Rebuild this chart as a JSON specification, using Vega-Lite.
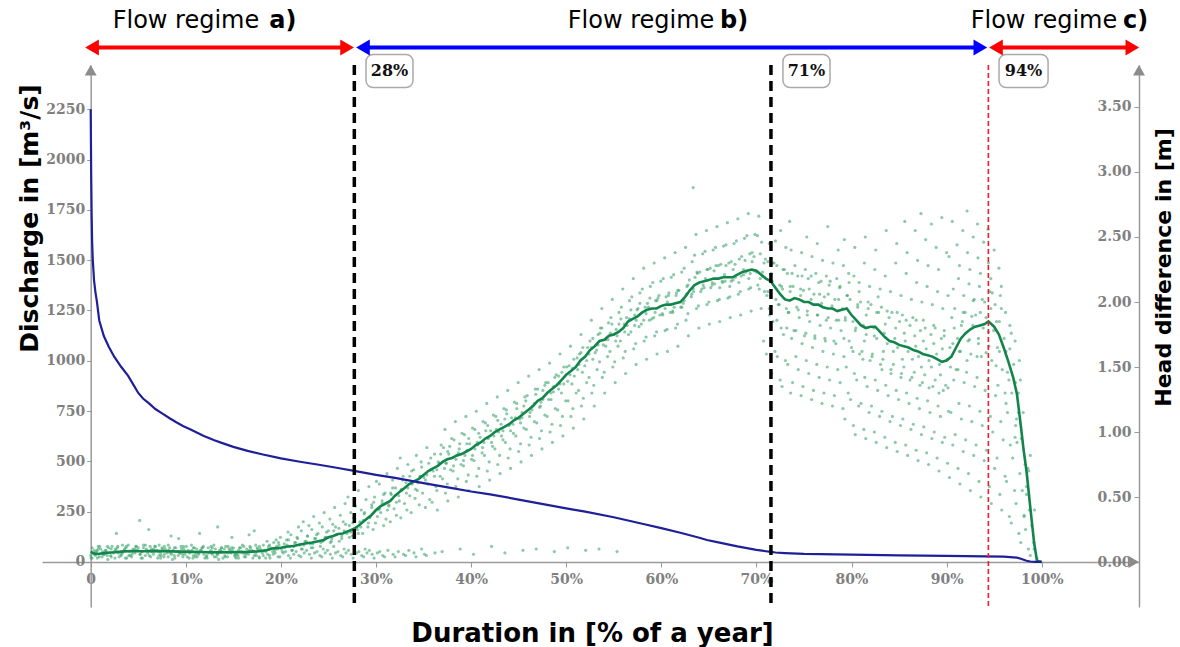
{
"$schema": "https://vega.github.io/schema/vega-lite/v6.json",
"width": 1097, "height": 542,
"autosize": {"type": "none"},
"padding": {"left": 42, "top": 65, "right": 41, "bottom": 40},
"background": "white",
"config": {"view": {"stroke": null}, "axis": {"grid": false}},
"datasets": {
"scatter": [
{"d":[0.0,0.35,0.15,0.45,0.05],"h":[0.05,0.09,0.11,0.07,0.03]},
{"d":[0.7,0.4,0.8,0.5,0.65],"h":[0.03,0.07,0.12,0.05,0.09]},
{"d":[0.9,1.25,1.05,1.35,0.95],"h":[0.04,0.08,0.1,0.06,0.12]},
{"d":[1.8,1.5,1.9,1.6,1.75],"h":[0.02,0.06,0.11,0.09,0.05]},
{"d":[2.1,2.45,2.25,2.55,2.15],"h":[0.05,0.08,0.12,0.03,0.1]},
{"d":[2.9,2.6,3.0,2.7,2.85],"h":[0.07,0.1,0.04,0.22,0.12]},
{"d":[3.2,3.55,3.35,3.65,3.25],"h":[0.06,0.09,0.13,0.03,0.08]},
{"d":[4.0,3.7,4.1,3.8,3.95],"h":[0.05,0.11,0.08,0.03,0.13]},
{"d":[4.3,4.65,4.45,4.75,4.35],"h":[0.04,0.07,0.1,0.12,0.06]},
{"d":[5.2,4.9,5.3,5.0,5.15],"h":[0.06,0.09,0.03,0.11,0.32]},
{"d":[5.4,5.75,5.55,5.85,5.45],"h":[0.08,0.05,0.13,0.1,0.03]},
{"d":[6.3,6.0,6.4,6.1,6.25],"h":[0.04,0.07,0.1,0.25,0.12]},
{"d":[6.6,6.95,6.75,7.05,6.65],"h":[0.06,0.09,0.12,0.03,0.08]},
{"d":[7.4,7.1,7.5,7.2,7.35],"h":[0.05,0.08,0.11,0.13,0.03]},
{"d":[7.7,8.05,7.85,8.15,7.75],"h":[0.04,0.07,0.1,0.13,0.06]},
{"d":[8.5,8.2,8.6,8.3,8.45],"h":[0.06,0.09,0.02,0.11,0.2]},
{"d":[8.8,9.15,8.95,9.25,8.85],"h":[0.05,0.08,0.11,0.18,0.03]},
{"d":[9.7,9.4,9.8,9.5,9.65],"h":[0.04,0.07,0.1,0.12,0.06]},
{"d":[9.9,10.25,10.05,10.35,9.95],"h":[0.06,0.09,0.12,0.03,0.08]},
{"d":[10.8,10.5,10.9,10.6,10.75],"h":[0.05,0.08,0.11,0.13,0.03]},
{"d":[11.0,11.35,11.15,11.45,11.05],"h":[0.04,0.07,0.1,0.22,0.06]},
{"d":[11.9,11.6,12.0,11.7,11.85],"h":[0.06,0.09,0.03,0.11,0.12]},
{"d":[12.2,12.55,12.35,12.65,12.25],"h":[0.05,0.08,0.11,0.12,0.03]},
{"d":[13.0,12.7,13.1,12.8,12.95],"h":[0.04,0.07,0.1,0.06,0.13]},
{"d":[13.3,13.65,13.45,13.75,13.35],"h":[0.06,0.09,0.02,0.11,0.27]},
{"d":[14.1,13.8,14.2,13.9,14.05],"h":[0.05,0.08,0.12,0.03,0.1]},
{"d":[14.4,14.75,14.55,14.85,14.45],"h":[0.04,0.07,0.1,0.19,0.12]},
{"d":[15.2,14.9,15.3,15.0,15.15],"h":[0.06,0.09,0.03,0.11,0.05]},
{"d":[15.5,15.85,15.65,15.95,15.55],"h":[0.05,0.08,0.11,0.13,0.03]},
{"d":[16.3,16.0,16.4,16.1,16.25],"h":[0.04,0.07,0.1,0.12,0.06]},
{"d":[16.6,16.95,16.75,17.05,16.65],"h":[0.06,0.09,0.12,0.03,0.21]},
{"d":[17.4,17.1,17.5,17.2,17.35],"h":[0.05,0.08,0.11,0.24,0.13]},
{"d":[17.7,18.05,17.85,18.15,17.75],"h":[0.04,0.07,0.1,0.13,0.03]},
{"d":[18.6,18.3,18.7,18.4,18.55],"h":[0.06,0.09,0.12,0.03,0.16]},
{"d":[18.8,19.15,18.95,19.25,18.85],"h":[0.05,0.08,0.11,0.15,0.03]},
{"d":[19.7,19.4,19.8,19.5,19.65],"h":[0.04,0.07,0.13,0.17,0.1]},
{"d":[19.9,20.25,20.05,20.35,19.95],"h":[0.04,0.07,0.1,0.14,0.19]},
{"d":[20.8,20.5,20.9,20.6,20.75],"h":[0.05,0.08,0.12,0.17,0.23]},
{"d":[21.0,21.35,21.15,21.45,21.05],"h":[0.03,0.06,0.09,0.15,0.21]},
{"d":[21.9,21.6,22.0,21.7,21.85],"h":[0.05,0.08,0.13,0.19,0.27]},
{"d":[22.1,22.45,22.25,22.55,22.15,22.35],"h":[0.04,0.07,0.1,0.16,0.24,0.31]},
{"d":[23.0,22.7,23.1,22.8,22.95],"h":[0.06,0.09,0.14,0.2,0.28]},
{"d":[23.2,23.55,23.35,23.65,23.25,23.45],"h":[0.03,0.07,0.11,0.18,0.25,0.35]},
{"d":[24.1,23.8,24.2,23.9,24.05],"h":[0.05,0.08,0.15,0.22,0.3]},
{"d":[24.3,24.65,24.45,24.75,24.35,24.55],"h":[0.04,0.07,0.1,0.19,0.27,0.38]},
{"d":[25.2,24.9,25.3,25.0,25.15],"h":[0.06,0.09,0.16,0.24,0.33]},
{"d":[25.4,25.75,25.55,25.85,25.45,25.65],"h":[0.03,0.07,0.12,0.21,0.29,0.42]},
{"d":[26.3,26.0,26.4,26.1,26.25],"h":[0.05,0.08,0.18,0.26,0.36]},
{"d":[26.5,26.85,26.65,26.95,26.55,26.75],"h":[0.04,0.07,0.1,0.22,0.31,0.45]},
{"d":[27.4,27.1,27.5,27.2,27.35,27.05],"h":[0.06,0.09,0.2,0.28,0.38,0.5]},
{"d":[27.6,27.95,27.75,28.05,27.65,27.85],"h":[0.03,0.07,0.11,0.25,0.34,0.43]},
{"d":[28.5,28.2,28.6,28.3,28.45,28.15],"h":[0.05,0.08,0.22,0.31,0.4,0.55]},
{"d":[28.7,29.05,28.85,29.15,28.75,28.95],"h":[0.04,0.07,0.1,0.27,0.37,0.48]},
{"d":[29.6,29.3,29.7,29.4,29.55,29.25],"h":[0.06,0.09,0.25,0.35,0.44,0.58]},
{"d":[29.8,30.15,29.95,30.25,29.85,30.05],"h":[0.03,0.07,0.3,0.4,0.5,0.62]},
{"d":[30.7,30.4,30.8,30.5,30.65,30.35],"h":[0.05,0.08,0.28,0.38,0.47,0.6]},
{"d":[30.9,31.25,31.05,31.35,30.95,31.15],"h":[0.04,0.09,0.33,0.43,0.53,0.68]},
{"d":[31.8,31.5,31.9,31.6,31.75],"h":[0.06,0.31,0.41,0.52,0.63]},
{"d":[32.0,32.35,32.15,32.45,32.05,32.25],"h":[0.04,0.08,0.36,0.47,0.57,0.72]},
{"d":[32.9,32.6,33.0,32.7,32.85,32.55],"h":[0.06,0.34,0.45,0.55,0.66,0.8]},
{"d":[33.1,33.45,33.25,33.55,33.15,33.35],"h":[0.05,0.09,0.4,0.51,0.61,0.75]},
{"d":[34.0,33.7,34.1,33.8,33.95],"h":[0.07,0.38,0.49,0.6,0.71]},
{"d":[34.2,34.55,34.35,34.65,34.25],"h":[0.04,0.44,0.55,0.66,0.82]},
{"d":[35.1,34.8,35.2,34.9,35.05,34.75],"h":[0.06,0.1,0.42,0.53,0.65,0.77]},
{"d":[35.3,35.65,35.45,35.75,35.35],"h":[0.05,0.48,0.6,0.71,0.88]},
{"d":[36.2,35.9,36.3,36.0,36.15],"h":[0.07,0.46,0.58,0.7,0.83]},
{"d":[36.4,36.75,36.55,36.85,36.45],"h":[0.55,0.66,0.77,0.9,0.4]},
{"d":[37.3,37.0,37.4,37.1,37.25,36.95],"h":[0.53,0.64,0.76,0.88,1.02,0.08]},
{"d":[37.5,37.85,37.65,37.95,37.55],"h":[0.6,0.71,0.83,0.95,0.47]},
{"d":[38.4,38.1,38.5,38.2,38.35],"h":[0.58,0.7,0.82,0.94,1.08]},
{"d":[38.6,38.95,38.75,39.05,38.65,38.85],"h":[0.64,0.75,0.87,0.99,0.5,0.1]},
{"d":[39.5,39.2,39.6,39.3,39.45],"h":[0.62,0.74,0.86,0.98,1.12]},
{"d":[39.7,40.05,39.85,40.15,39.75],"h":[0.67,0.79,0.91,1.03,0.55]},
{"d":[40.6,40.3,40.7,40.4,40.55,40.25],"h":[0.66,0.78,0.9,1.02,1.16,0.06]},
{"d":[40.8,41.15,40.95,41.25,40.85],"h":[0.72,0.84,0.96,1.08,0.58]},
{"d":[41.7,41.4,41.8,41.5,41.65],"h":[0.7,0.82,0.95,1.07,1.22]},
{"d":[41.9,42.25,42.05,42.35,41.95,42.15],"h":[0.77,0.89,1.01,1.13,0.63,0.12]},
{"d":[42.8,42.5,42.9,42.6,42.75],"h":[0.75,0.87,1.0,1.12,1.27]},
{"d":[43.0,43.35,43.15,43.45,43.05],"h":[0.82,0.94,1.06,1.18,0.68]},
{"d":[43.9,43.6,44.0,43.7,43.85,43.55],"h":[0.8,0.92,1.05,1.17,1.32,0.07]},
{"d":[44.1,44.45,44.25,44.55,44.15],"h":[0.87,0.99,1.11,1.23,0.72]},
{"d":[45.0,44.7,45.1,44.8,44.95],"h":[0.85,0.97,1.1,1.22,1.38]},
{"d":[45.2,45.55,45.35,45.65,45.25,45.45],"h":[0.91,1.03,1.15,1.27,0.77,0.09]},
{"d":[46.1,45.8,46.2,45.9,46.05],"h":[0.9,1.02,1.15,1.28,1.43]},
{"d":[46.3,46.65,46.45,46.75,46.35],"h":[0.96,1.08,1.2,1.33,0.82]},
{"d":[47.2,46.9,47.3,47.0,47.15,46.85],"h":[0.95,1.07,1.2,1.33,1.48,0.1]},
{"d":[47.4,47.75,47.55,47.85,47.45],"h":[1.01,1.13,1.25,1.38,0.87]},
{"d":[48.3,48.0,48.4,48.1,48.25],"h":[1.0,1.12,1.25,1.38,1.53]},
{"d":[48.5,48.85,48.65,48.95,48.55,48.75],"h":[1.06,1.18,1.31,1.44,0.92,0.08]},
{"d":[49.4,49.1,49.5,49.2,49.35],"h":[1.05,1.17,1.3,1.43,1.6]},
{"d":[49.6,49.95,49.75,50.05,49.65],"h":[1.12,1.24,1.37,1.5,0.97]},
{"d":[50.5,50.2,50.6,50.3,50.45,50.15],"h":[1.12,1.24,1.37,1.51,1.66,0.11]},
{"d":[50.7,51.05,50.85,51.15,50.75],"h":[1.18,1.3,1.43,1.57,1.03]},
{"d":[51.6,51.3,51.7,51.4,51.55],"h":[1.2,1.32,1.46,1.6,1.75]},
{"d":[51.8,52.15,51.95,52.25,51.85,52.05],"h":[1.26,1.38,1.51,1.65,1.1,0.09]},
{"d":[52.7,52.4,52.8,52.5,52.65],"h":[1.3,1.42,1.56,1.7,1.86]},
{"d":[52.9,53.25,53.05,53.35,52.95],"h":[1.36,1.48,1.61,1.75,1.2]},
{"d":[53.8,53.5,53.9,53.6,53.75,53.45],"h":[1.42,1.54,1.67,1.8,1.95,0.1]},
{"d":[54.0,54.35,54.15,54.45,54.05],"h":[1.46,1.58,1.71,1.84,1.3]},
{"d":[54.9,54.6,55.0,54.7,54.85],"h":[1.5,1.62,1.75,1.88,2.02]},
{"d":[55.1,55.45,55.25,55.55,55.15,55.35],"h":[1.54,1.66,1.79,1.92,1.38,0.08]},
{"d":[56.0,55.7,56.1,55.8,55.95],"h":[1.57,1.7,1.83,1.96,2.1]},
{"d":[56.2,56.55,56.35,56.65,56.25],"h":[1.62,1.75,1.88,2.01,1.45]},
{"d":[57.1,56.8,57.2,56.9,57.05],"h":[1.64,1.77,1.9,2.04,2.18]},
{"d":[57.3,57.65,57.45,57.75,57.35],"h":[1.68,1.81,1.94,2.07,1.52]},
{"d":[58.2,57.9,58.3,58.0,58.15],"h":[1.7,1.83,1.96,2.1,2.26]},
{"d":[58.4,58.75,58.55,58.85,58.45],"h":[1.73,1.86,1.99,2.12,1.56]},
{"d":[59.3,59.0,59.4,59.1,59.25],"h":[1.74,1.87,2.01,2.15,2.3]},
{"d":[59.5,59.85,59.65,59.95,59.55],"h":[1.77,1.9,2.03,2.16,1.6]},
{"d":[60.4,60.1,60.5,60.2,60.35],"h":[1.78,1.91,2.04,2.18,2.34]},
{"d":[60.6,60.95,60.75,61.05,60.65],"h":[1.79,1.92,2.05,2.19,1.62]},
{"d":[61.5,61.2,61.6,61.3,61.45],"h":[1.8,1.93,2.07,2.21,2.38]},
{"d":[61.7,62.05,61.85,62.15,61.75],"h":[1.83,1.96,2.09,2.23,1.66]},
{"d":[62.6,62.3,62.7,62.4,62.55],"h":[1.86,1.99,2.12,2.26,2.42]},
{"d":[62.8,63.15,62.95,63.25,62.85],"h":[1.91,2.04,2.17,2.31,1.74]},
{"d":[63.7,63.4,63.8,63.5,63.65,63.35],"h":[1.95,2.08,2.22,2.36,2.52,2.88]},
{"d":[63.9,64.25,64.05,64.35,63.95],"h":[1.97,2.1,2.23,2.37,1.8]},
{"d":[64.8,64.5,64.9,64.6,64.75],"h":[1.98,2.11,2.25,2.39,2.55]},
{"d":[65.0,65.35,65.15,65.45,65.05],"h":[2.0,2.13,2.26,2.4,1.83]},
{"d":[65.9,65.6,66.0,65.7,65.85],"h":[2.01,2.14,2.28,2.42,2.58]},
{"d":[66.1,66.45,66.25,66.55,66.15],"h":[2.02,2.15,2.29,2.43,1.85]},
{"d":[67.0,66.7,67.1,66.8,66.95],"h":[2.03,2.16,2.3,2.44,2.61]},
{"d":[67.2,67.55,67.35,67.65,67.25],"h":[2.04,2.17,2.31,2.45,1.88]},
{"d":[68.1,67.8,68.2,67.9,68.05],"h":[2.06,2.19,2.33,2.47,2.64]},
{"d":[68.3,68.65,68.45,68.75,68.35],"h":[2.08,2.21,2.35,2.49,1.9]},
{"d":[69.2,68.9,69.3,69.0,69.15],"h":[2.1,2.23,2.37,2.51,2.68]},
{"d":[69.4,69.75,69.55,69.85,69.45],"h":[2.11,2.24,2.38,2.52,1.93]},
{"d":[70.3,70.0,70.4,70.1,70.25],"h":[2.1,2.23,2.37,2.51,2.66]},
{"d":[70.5,70.85,70.65,70.95,70.55,70.75],"h":[1.95,2.08,2.2,2.33,2.46,1.7]},
{"d":[71.4,71.1,71.5,71.2,71.35,71.05],"h":[1.9,2.05,2.18,2.31,2.45,1.6]},
{"d":[71.6,71.95,71.75,72.05,71.65,71.85,72.0],"h":[1.45,1.62,1.85,2.02,2.16,2.3,2.47]},
{"d":[72.5,72.2,72.6,72.3,72.45,72.15,72.55],"h":[1.4,1.58,1.8,1.98,2.13,2.28,2.55]},
{"d":[72.7,73.05,72.85,73.15,72.75,72.95,73.1],"h":[1.35,1.55,1.75,1.95,2.1,2.25,2.42]},
{"d":[73.6,73.3,73.7,73.4,73.55,73.25,73.65,73.5],"h":[1.3,1.52,1.72,1.92,2.08,2.22,2.4,2.62]},
{"d":[73.8,74.15,73.95,74.25,73.85,74.05],"h":[1.38,1.58,1.78,1.96,2.12,2.28]},
{"d":[74.7,74.4,74.8,74.5,74.65,74.35,74.75],"h":[1.28,1.48,1.68,1.88,2.05,2.2,2.38]},
{"d":[74.9,75.25,75.05,75.35,74.95,75.15,75.3],"h":[1.35,1.55,1.74,1.93,2.09,2.25,2.5]},
{"d":[75.8,75.5,75.9,75.6,75.75,75.45,75.85],"h":[1.25,1.45,1.65,1.85,2.02,2.18,2.35]},
{"d":[76.0,76.35,76.15,76.45,76.05,76.25,76.4],"h":[1.32,1.52,1.72,1.9,2.06,2.22,2.45]},
{"d":[76.9,76.6,77.0,76.7,76.85,76.55,76.95],"h":[1.22,1.42,1.62,1.82,1.99,2.15,2.32]},
{"d":[77.1,77.45,77.25,77.55,77.15,77.35,77.5],"h":[1.3,1.5,1.7,1.88,2.04,2.2,2.58]},
{"d":[78.0,77.7,78.1,77.8,77.95,77.65,78.05],"h":[1.2,1.4,1.6,1.8,1.97,2.13,2.3]},
{"d":[78.2,78.55,78.35,78.65,78.25,78.45,78.6],"h":[1.28,1.48,1.68,1.86,2.02,2.18,2.4]},
{"d":[79.1,78.8,79.2,78.9,79.05,78.75,79.15],"h":[1.18,1.38,1.58,1.78,1.95,2.11,2.28]},
{"d":[79.3,79.65,79.45,79.75,79.35,79.55,79.7,79.25],"h":[1.1,1.3,1.5,1.7,1.88,2.05,2.22,2.48]},
{"d":[80.2,79.9,80.3,80.0,80.15,79.85,80.25],"h":[1.05,1.25,1.45,1.65,1.85,2.02,2.2]},
{"d":[80.4,80.75,80.55,80.85,80.45,80.65,80.8,80.35],"h":[0.98,1.2,1.4,1.6,1.8,1.98,2.15,2.42]},
{"d":[81.3,81.0,81.4,81.1,81.25,80.95,81.35],"h":[1.02,1.22,1.42,1.62,1.82,2.0,2.3]},
{"d":[81.5,81.85,81.65,81.95,81.55,81.75,81.9,81.45],"h":[0.95,1.15,1.35,1.55,1.75,1.95,2.12,2.5]},
{"d":[82.4,82.1,82.5,82.2,82.35,82.05,82.45],"h":[1.0,1.2,1.4,1.6,1.8,1.98,2.25]},
{"d":[82.6,82.95,82.75,83.05,82.65,82.85,83.0,82.55],"h":[0.92,1.12,1.32,1.52,1.72,1.92,2.1,2.4]},
{"d":[83.5,83.2,83.6,83.3,83.45,83.15,83.55],"h":[0.96,1.16,1.36,1.56,1.76,1.96,2.2]},
{"d":[83.7,84.05,83.85,84.15,83.75,83.95,84.1,83.65],"h":[0.88,1.08,1.28,1.48,1.68,1.88,2.08,2.55]},
{"d":[84.6,84.3,84.7,84.4,84.55,84.25,84.65],"h":[0.92,1.12,1.32,1.52,1.72,1.92,2.3]},
{"d":[84.8,85.15,84.95,85.25,84.85,85.05,85.2,84.75],"h":[0.85,1.05,1.25,1.45,1.65,1.85,2.05,2.45]},
{"d":[85.7,85.4,85.8,85.5,85.65,85.35,85.75,85.6],"h":[0.9,1.1,1.3,1.5,1.7,1.9,2.22,2.62]},
{"d":[85.9,86.25,86.05,86.35,85.95,86.15,86.3,85.85],"h":[0.82,1.02,1.22,1.42,1.62,1.82,2.02,2.38]},
{"d":[86.8,86.5,86.9,86.6,86.75,86.45,86.85,86.7],"h":[0.86,1.06,1.26,1.46,1.66,1.88,2.15,2.55]},
{"d":[87.0,87.35,87.15,87.45,87.05,87.25,87.4,86.95,87.3],"h":[0.78,0.98,1.18,1.38,1.58,1.78,2.0,2.32,2.68]},
{"d":[87.9,87.6,88.0,87.7,87.85,87.55,87.95,87.8],"h":[0.84,1.04,1.24,1.44,1.64,1.86,2.12,2.48]},
{"d":[88.1,88.45,88.25,88.55,88.15,88.35,88.5,88.05,88.4],"h":[0.75,0.95,1.15,1.35,1.55,1.75,1.98,2.28,2.6]},
{"d":[89.0,88.7,89.1,88.8,88.95,88.65,89.05,88.9],"h":[0.8,1.0,1.2,1.4,1.6,1.82,2.08,2.42]},
{"d":[89.2,89.55,89.35,89.65,89.25,89.45,89.6,89.15,89.5],"h":[0.7,0.92,1.12,1.32,1.52,1.72,1.95,2.25,2.65]},
{"d":[90.1,89.8,90.2,89.9,90.05,89.75,90.15,90.0],"h":[0.76,0.96,1.16,1.36,1.56,1.78,2.05,2.38]},
{"d":[90.3,90.65,90.45,90.75,90.35,90.55,90.7,90.25,90.6],"h":[0.65,0.9,1.15,1.4,1.65,1.88,2.1,2.35,2.62]},
{"d":[91.2,90.9,91.3,91.0,91.15,90.85,91.25,91.1],"h":[0.72,0.98,1.22,1.48,1.72,1.95,2.18,2.44]},
{"d":[91.4,91.75,91.55,91.85,91.45,91.65,91.8,91.35,91.7],"h":[0.6,0.85,1.1,1.38,1.62,1.85,2.05,2.28,2.55]},
{"d":[92.3,92.0,92.4,92.1,92.25,91.95,92.35,92.2,92.15],"h":[0.68,0.94,1.2,1.46,1.7,1.92,2.14,2.38,2.7]},
{"d":[92.5,92.85,92.65,92.95,92.55,92.75,92.9,92.45,92.8],"h":[0.55,0.82,1.08,1.35,1.6,1.82,2.02,2.25,2.5]},
{"d":[93.4,93.1,93.5,93.2,93.35,93.05,93.45,93.3,93.25],"h":[0.62,0.9,1.16,1.42,1.68,1.9,2.12,2.34,2.6]},
{"d":[93.6,93.95,93.75,94.05,93.65,93.85,94.0,93.55,93.9],"h":[0.5,0.78,1.05,1.32,1.58,1.8,2.0,2.22,2.46]},
{"d":[94.5,94.2,94.6,94.3,94.45,94.15,94.55,94.4,94.35],"h":[0.58,0.86,1.12,1.4,1.66,1.88,2.08,2.3,2.56]},
{"d":[94.7,95.05,94.85,95.15,94.75,94.95,95.1,94.65,95.0],"h":[0.45,0.72,1.0,1.28,1.55,1.78,1.98,2.18,2.4]},
{"d":[95.6,95.3,95.7,95.4,95.55,95.25,95.65,95.5],"h":[0.52,0.8,1.08,1.36,1.62,1.85,2.05,2.26]},
{"d":[95.8,96.15,95.95,96.25,95.85,96.05,96.2,95.75],"h":[0.4,0.66,0.94,1.22,1.48,1.72,1.92,2.12]},
{"d":[96.6,96.3,96.7,96.4,96.55,96.25,96.65],"h":[0.35,0.62,0.9,1.15,1.4,1.62,1.82]},
{"d":[96.8,97.15,96.95,97.25,96.85,97.05,97.2],"h":[0.3,0.55,0.8,1.05,1.3,1.52,1.7]},
{"d":[97.6,97.3,97.7,97.4,97.55,97.25,97.65],"h":[0.22,0.45,0.68,0.92,1.15,1.38,1.55]},
{"d":[97.8,98.15,97.95,98.25,97.85,98.05],"h":[0.15,0.35,0.55,0.75,0.95,1.15]},
{"d":[98.6,98.3,98.7,98.4,98.55],"h":[0.1,0.25,0.4,0.58,0.72]},
{"d":[98.8,99.15,98.95,99.25],"h":[0.05,0.15,0.28,0.4]},
{"d":[99.5,99.2],"h":[0.03,0.1]},
{"d":[0.15,0.65,0.4,0.8],"h":[0.03,0.08,0.06,0.1]},
{"d":[1.55,1.2,1.75,1.35],"h":[0.09,0.04,0.12,0.06]},
{"d":[2.15,2.65,2.4,2.8],"h":[0.04,0.09,0.07,0.11]},
{"d":[3.55,3.2,3.75,3.35],"h":[0.1,0.05,0.12,0.07]},
{"d":[4.15,4.65,4.4,4.8],"h":[0.05,0.1,0.08,0.12]},
{"d":[5.55,5.2,5.75,5.35],"h":[0.11,0.06,0.13,0.08]},
{"d":[6.15,6.65,6.4,6.8],"h":[0.05,0.1,0.08,0.12]},
{"d":[7.55,7.2,7.75,7.35],"h":[0.1,0.05,0.12,0.07]},
{"d":[8.15,8.65,8.4,8.8],"h":[0.04,0.09,0.07,0.11]},
{"d":[9.55,9.2,9.75,9.35],"h":[0.1,0.05,0.12,0.07]},
{"d":[10.15,10.65,10.4,10.8],"h":[0.04,0.09,0.07,0.11]},
{"d":[11.55,11.2,11.75,11.35],"h":[0.09,0.04,0.11,0.06]},
{"d":[12.15,12.65,12.4,12.8],"h":[0.04,0.09,0.07,0.11]},
{"d":[13.55,13.2,13.75,13.35],"h":[0.09,0.04,0.11,0.06]},
{"d":[14.15,14.65,14.4,14.8],"h":[0.04,0.09,0.07,0.11]},
{"d":[15.55,15.2,15.75,15.35],"h":[0.09,0.04,0.11,0.06]},
{"d":[16.15,16.65,16.4,16.8],"h":[0.04,0.09,0.07,0.11]},
{"d":[17.55,17.2,17.75,17.35],"h":[0.1,0.05,0.12,0.07]},
{"d":[18.15,18.65,18.4,18.8],"h":[0.05,0.1,0.08,0.13]},
{"d":[19.55,19.2,19.75,19.35],"h":[0.12,0.06,0.15,0.09]},
{"d":[20.15,20.65,20.4,20.8],"h":[0.08,0.13,0.11,0.17]},
{"d":[21.55,21.2,21.75,21.35],"h":[0.15,0.09,0.18,0.12]},
{"d":[22.15,22.65,22.4,22.8],"h":[0.1,0.16,0.13,0.2]},
{"d":[23.55,23.2,23.75,23.35],"h":[0.18,0.11,0.21,0.14]},
{"d":[24.15,24.65,24.4,24.8],"h":[0.12,0.19,0.16,0.23]},
{"d":[25.55,25.2,25.75,25.35],"h":[0.24,0.15,0.27,0.18]},
{"d":[26.15,26.65,26.4,26.8],"h":[0.16,0.24,0.2,0.29]},
{"d":[27.55,27.2,27.75,27.35],"h":[0.3,0.19,0.33,0.23]},
{"d":[28.15,28.65,28.4,28.8],"h":[0.22,0.32,0.27,0.38]},
{"d":[29.55,29.2,29.75,29.35],"h":[0.42,0.3,0.46,0.34]},
{"d":[30.15,30.65,30.4,30.8],"h":[0.35,0.45,0.41,0.52]},
{"d":[31.55,31.2,31.75,31.35],"h":[0.53,0.4,0.57,0.44]},
{"d":[32.15,32.65,32.4,32.8],"h":[0.46,0.56,0.51,0.63]},
{"d":[33.55,33.2,33.75,33.35],"h":[0.66,0.53,0.7,0.57]},
{"d":[34.15,34.65,34.4,34.8],"h":[0.56,0.66,0.61,0.73]},
{"d":[35.55,35.2,35.75,35.35],"h":[0.76,0.63,0.8,0.67]},
{"d":[36.15,36.65,36.4,36.8],"h":[0.66,0.76,0.71,0.83]},
{"d":[37.55,37.2,37.75,37.35],"h":[0.85,0.72,0.89,0.76]},
{"d":[38.15,38.65,38.4,38.8],"h":[0.74,0.84,0.79,0.91]},
{"d":[39.55,39.2,39.75,39.35],"h":[0.91,0.78,0.95,0.82]},
{"d":[40.15,40.65,40.4,40.8],"h":[0.82,0.92,0.87,0.99]},
{"d":[41.55,41.2,41.75,41.35],"h":[1.01,0.88,1.05,0.92]},
{"d":[42.15,42.65,42.4,42.8],"h":[0.92,1.02,0.97,1.09]},
{"d":[43.55,43.2,43.75,43.35],"h":[1.1,0.97,1.14,1.01]},
{"d":[44.15,44.65,44.4,44.8],"h":[1.01,1.11,1.06,1.18]},
{"d":[45.55,45.2,45.75,45.35],"h":[1.2,1.07,1.24,1.11]},
{"d":[46.15,46.65,46.4,46.8],"h":[1.12,1.22,1.17,1.29]},
{"d":[47.55,47.2,47.75,47.35],"h":[1.32,1.19,1.36,1.23]},
{"d":[48.15,48.65,48.4,48.8],"h":[1.25,1.35,1.3,1.42]},
{"d":[49.55,49.2,49.75,49.35],"h":[1.46,1.33,1.5,1.37]},
{"d":[50.15,50.65,50.4,50.8],"h":[1.39,1.49,1.44,1.56]},
{"d":[51.55,51.2,51.75,51.35],"h":[1.61,1.48,1.65,1.52]},
{"d":[52.15,52.65,52.4,52.8],"h":[1.55,1.65,1.6,1.72]},
{"d":[53.55,53.2,53.75,53.35],"h":[1.76,1.63,1.8,1.67]},
{"d":[54.15,54.65,54.4,54.8],"h":[1.66,1.76,1.71,1.83]},
{"d":[55.55,55.2,55.75,55.35],"h":[1.83,1.7,1.87,1.74]},
{"d":[56.15,56.65,56.4,56.8],"h":[1.77,1.87,1.82,1.94]},
{"d":[57.55,57.2,57.75,57.35],"h":[1.95,1.82,1.99,1.86]},
{"d":[58.15,58.65,58.4,58.8],"h":[1.86,1.96,1.91,2.03]},
{"d":[59.55,59.2,59.75,59.35],"h":[2.01,1.88,2.05,1.92]},
{"d":[60.15,60.65,60.4,60.8],"h":[1.9,2.0,1.95,2.07]},
{"d":[61.55,61.2,61.75,61.35],"h":[2.05,1.92,2.09,1.96]},
{"d":[62.15,62.65,62.4,62.8],"h":[1.96,2.06,2.01,2.13]},
{"d":[63.55,63.2,63.75,63.35],"h":[2.19,2.06,2.23,2.1]},
{"d":[64.15,64.65,64.4,64.8],"h":[2.08,2.18,2.13,2.25]},
{"d":[65.55,65.2,65.75,65.35],"h":[2.24,2.11,2.28,2.15]},
{"d":[66.15,66.65,66.4,66.8],"h":[2.11,2.21,2.16,2.28]},
{"d":[67.55,67.2,67.75,67.35],"h":[2.25,2.12,2.29,2.16]},
{"d":[68.15,68.65,68.4,68.8],"h":[2.15,2.25,2.2,2.32]},
{"d":[69.55,69.2,69.75,69.35],"h":[2.31,2.18,2.35,2.22]},
{"d":[70.15,70.65,70.4,70.8],"h":[2.13,2.23,2.18,2.3]},
{"d":[71.55,71.2,71.75,71.35],"h":[2.22,2.08,2.3,1.95]},
{"d":[72.15,72.65,72.4,72.8],"h":[1.86,2.12,1.98,2.25]},
{"d":[73.55,73.2,73.75,73.35],"h":[2.12,1.8,2.22,1.92]},
{"d":[74.15,74.65,74.4,74.8],"h":[1.78,2.1,1.94,2.2]},
{"d":[75.55,75.2,75.75,75.35],"h":[2.1,1.76,2.2,1.9]},
{"d":[76.15,76.65,76.4,76.8],"h":[1.74,2.06,1.9,2.16]},
{"d":[77.55,77.2,77.75,77.35],"h":[2.06,1.72,2.16,1.86]},
{"d":[78.15,78.65,78.4,78.8],"h":[1.7,2.02,1.86,2.12]},
{"d":[79.55,79.2,79.75,79.35],"h":[2.05,1.72,2.15,1.86]},
{"d":[80.15,80.65,80.4,80.8],"h":[1.62,1.96,1.78,2.08]},
{"d":[81.55,81.2,81.75,81.35],"h":[1.9,1.56,2.0,1.7]},
{"d":[82.15,82.65,82.4,82.8],"h":[1.58,1.92,1.74,2.04]},
{"d":[83.55,83.2,83.75,83.35],"h":[1.83,1.48,1.93,1.62]},
{"d":[84.15,84.65,84.4,84.8],"h":[1.45,1.8,1.62,1.92]},
{"d":[85.55,85.2,85.75,85.35],"h":[1.76,1.42,1.86,1.56]},
{"d":[86.15,86.65,86.4,86.8],"h":[1.4,1.74,1.56,1.86]},
{"d":[87.55,87.2,87.75,87.35],"h":[1.7,1.36,1.8,1.5]},
{"d":[88.15,88.65,88.4,88.8],"h":[1.34,1.68,1.5,1.8]},
{"d":[89.55,89.2,89.75,89.35],"h":[1.64,1.3,1.74,1.44]},
{"d":[90.15,90.65,90.4,90.8],"h":[1.34,1.68,1.5,1.8]},
{"d":[91.55,91.2,91.75,91.35],"h":[1.82,1.48,1.92,1.62]},
{"d":[92.15,92.65,92.4,92.8],"h":[1.55,1.89,1.71,2.01]},
{"d":[93.55,93.2,93.75,93.35],"h":[1.92,1.58,2.02,1.72]},
{"d":[94.15,94.65,94.4,94.8],"h":[1.61,1.95,1.77,2.07]},
{"d":[95.55,95.2,95.75,95.35],"h":[1.85,1.51,1.95,1.65]},
{"d":[96.15,96.65,96.4,96.8],"h":[1.3,1.64,1.46,1.76]},
{"d":[97.55,97.2,97.75,97.35],"h":[1.3,0.96,1.4,1.1]},
{"d":[98.15,98.65,98.4,98.8],"h":[0.36,0.7,0.52,0.82]}
],
"avg": [
{"d":0,"h":0.08},{"d":0.3,"h":0.065},{"d":0.8,"h":0.062},{"d":1.5,"h":0.07},{"d":2.5,"h":0.075},{"d":3.5,"h":0.082},{"d":4.5,"h":0.085},{"d":5.5,"h":0.083},{"d":6.5,"h":0.086},{"d":7.5,"h":0.084},{"d":8.5,"h":0.082},{"d":9.5,"h":0.08},{"d":10.5,"h":0.078},{"d":11.5,"h":0.077},{"d":12.5,"h":0.075},{"d":13.5,"h":0.074},{"d":14.5,"h":0.075},{"d":15.5,"h":0.076},{"d":16.5,"h":0.078},{"d":17.5,"h":0.082},{"d":18.5,"h":0.09},{"d":19.2,"h":0.105},{"d":20,"h":0.11},{"d":20.5,"h":0.118},{"d":21.3,"h":0.123},{"d":22,"h":0.135},{"d":22.7,"h":0.144},{"d":23.3,"h":0.15},{"d":23.8,"h":0.158},{"d":24.5,"h":0.17},{"d":25,"h":0.19},{"d":25.5,"h":0.2},{"d":26,"h":0.215},{"d":26.5,"h":0.22},{"d":27,"h":0.235},{"d":27.5,"h":0.25},{"d":28,"h":0.27},{"d":28.5,"h":0.3},{"d":29,"h":0.33},{"d":29.5,"h":0.36},{"d":30,"h":0.4},{"d":30.5,"h":0.43},{"d":31,"h":0.45},{"d":31.5,"h":0.47},{"d":32,"h":0.51},{"d":32.5,"h":0.54},{"d":33,"h":0.57},{"d":33.5,"h":0.6},{"d":34,"h":0.62},{"d":34.5,"h":0.64},{"d":35,"h":0.67},{"d":35.5,"h":0.7},{"d":36,"h":0.72},{"d":36.5,"h":0.74},{"d":37,"h":0.77},{"d":37.5,"h":0.79},{"d":38,"h":0.8},{"d":38.5,"h":0.82},{"d":39,"h":0.83},{"d":39.5,"h":0.85},{"d":40,"h":0.87},{"d":40.5,"h":0.9},{"d":41,"h":0.92},{"d":41.5,"h":0.95},{"d":42,"h":0.97},{"d":42.5,"h":1.0},{"d":43,"h":1.02},{"d":43.5,"h":1.04},{"d":44,"h":1.06},{"d":44.5,"h":1.09},{"d":45,"h":1.11},{"d":45.5,"h":1.14},{"d":46,"h":1.17},{"d":46.5,"h":1.2},{"d":47,"h":1.24},{"d":47.5,"h":1.26},{"d":48,"h":1.3},{"d":48.5,"h":1.33},{"d":49,"h":1.36},{"d":49.5,"h":1.4},{"d":50,"h":1.44},{"d":50.5,"h":1.47},{"d":51,"h":1.5},{"d":51.5,"h":1.55},{"d":52,"h":1.58},{"d":52.5,"h":1.63},{"d":53,"h":1.66},{"d":53.5,"h":1.7},{"d":54,"h":1.71},{"d":54.5,"h":1.74},{"d":55,"h":1.75},{"d":55.5,"h":1.77},{"d":56,"h":1.8},{"d":56.5,"h":1.85},{"d":57,"h":1.87},{"d":57.5,"h":1.89},{"d":58,"h":1.92},{"d":58.5,"h":1.94},{"d":59,"h":1.95},{"d":59.5,"h":1.95},{"d":60,"h":1.97},{"d":60.5,"h":1.98},{"d":61,"h":1.98},{"d":61.5,"h":1.99},{"d":62,"h":2.0},{"d":62.5,"h":2.04},{"d":63,"h":2.09},{"d":63.5,"h":2.13},{"d":64,"h":2.15},{"d":64.5,"h":2.16},{"d":65,"h":2.17},{"d":65.5,"h":2.18},{"d":66,"h":2.18},{"d":66.5,"h":2.19},{"d":67,"h":2.19},{"d":67.5,"h":2.19},{"d":68,"h":2.21},{"d":68.5,"h":2.23},{"d":69,"h":2.24},{"d":69.5,"h":2.25},{"d":70,"h":2.24},{"d":70.5,"h":2.21},{"d":71,"h":2.18},{"d":71.5,"h":2.16},{"d":72,"h":2.11},{"d":72.5,"h":2.06},{"d":73,"h":2.02},{"d":73.5,"h":2.01},{"d":74,"h":2.03},{"d":74.5,"h":2.02},{"d":75,"h":2.0},{"d":75.5,"h":2.0},{"d":76,"h":1.98},{"d":76.5,"h":1.98},{"d":77,"h":1.96},{"d":77.5,"h":1.95},{"d":78,"h":1.95},{"d":78.5,"h":1.93},{"d":79,"h":1.94},{"d":79.5,"h":1.95},{"d":80,"h":1.9},{"d":80.5,"h":1.86},{"d":81,"h":1.82},{"d":81.5,"h":1.8},{"d":82,"h":1.81},{"d":82.5,"h":1.81},{"d":83,"h":1.77},{"d":83.5,"h":1.73},{"d":84,"h":1.7},{"d":84.5,"h":1.69},{"d":85,"h":1.67},{"d":85.5,"h":1.66},{"d":86,"h":1.65},{"d":86.5,"h":1.63},{"d":87,"h":1.62},{"d":87.5,"h":1.6},{"d":88,"h":1.59},{"d":88.5,"h":1.58},{"d":89,"h":1.56},{"d":89.5,"h":1.54},{"d":90,"h":1.55},{"d":90.5,"h":1.58},{"d":91,"h":1.65},{"d":91.5,"h":1.72},{"d":92,"h":1.76},{"d":92.5,"h":1.79},{"d":93,"h":1.81},{"d":93.5,"h":1.82},{"d":94,"h":1.83},{"d":94.4,"h":1.85},{"d":95,"h":1.81},{"d":95.5,"h":1.75},{"d":96,"h":1.65},{"d":96.5,"h":1.54},{"d":97,"h":1.42},{"d":97.4,"h":1.29},{"d":97.8,"h":1.05},{"d":98.1,"h":0.86},{"d":98.4,"h":0.7},{"d":98.8,"h":0.42},{"d":99.2,"h":0.15},{"d":99.5,"h":0.01},{"d":100,"h":0}
],
"flow": [
{"d":0,"v":2250},{"d":0.02,"v":2120},{"d":0.05,"v":1930},{"d":0.1,"v":1720},{"d":0.15,"v":1590},{"d":0.22,"v":1500},{"d":0.35,"v":1400},{"d":0.5,"v":1340},{"d":0.65,"v":1295},{"d":0.9,"v":1200},{"d":1.38,"v":1123},{"d":1.9,"v":1070},{"d":2.47,"v":1020},{"d":3.2,"v":970},{"d":3.92,"v":926},{"d":4.5,"v":880},{"d":5.0,"v":840},{"d":5.5,"v":812},{"d":6.1,"v":789},{"d":6.8,"v":760},{"d":7.55,"v":737},{"d":8.3,"v":714},{"d":9.0,"v":694},{"d":9.7,"v":676},{"d":10.45,"v":660},{"d":11.2,"v":642},{"d":11.9,"v":626},{"d":13,"v":605},{"d":14,"v":588},{"d":15,"v":572},{"d":16.5,"v":552},{"d":18,"v":535},{"d":20,"v":515},{"d":22,"v":498},{"d":24,"v":483},{"d":26,"v":467},{"d":28,"v":450},{"d":30,"v":433},{"d":32,"v":418},{"d":35,"v":392},{"d":38,"v":367},{"d":40,"v":350},{"d":42,"v":336},{"d":45,"v":310},{"d":48,"v":284},{"d":50,"v":266},{"d":52,"v":250},{"d":55,"v":222},{"d":58,"v":190},{"d":60,"v":168},{"d":62,"v":145},{"d":64,"v":120},{"d":64.8,"v":109},{"d":66,"v":97},{"d":68,"v":77},{"d":70,"v":60},{"d":71,"v":53},{"d":71.5,"v":50},{"d":72,"v":47},{"d":73,"v":44},{"d":75,"v":40},{"d":80,"v":36},{"d":85,"v":33},{"d":90,"v":30},{"d":94,"v":28},{"d":96,"v":26},{"d":97,"v":23},{"d":97.4,"v":21},{"d":97.8,"v":16},{"d":98.1,"v":11},{"d":98.4,"v":6},{"d":98.8,"v":2},{"d":99.3,"v":0},{"d":100,"v":0}
],
"blackLines": [{"d":27.72},{"d":71.53}],
"redLine": [{"d":94.39}],
"boxes": [
{"x1":28.95,"x2":33.89,"xc":31.42,"t":"28%"},
{"x1":72.79,"x2":77.74,"xc":75.26,"t":"71%"},
{"x1":95.51,"x2":100.67,"xc":98.09,"t":"94%"}
],
"arrows": [
{"a":0.14,"b":26.96,"c":"red"},
{"a":28.63,"b":93.55,"c":"blue"},
{"a":95.19,"b":109.53,"c":"red"}
],
"heads": [
{"d":0.14,"s":"triangle-left","c":"red"},
{"d":26.96,"s":"triangle-right","c":"red"},
{"d":28.63,"s":"triangle-left","c":"blue"},
{"d":93.55,"s":"triangle-right","c":"blue"},
{"d":95.19,"s":"triangle-left","c":"red"},
{"d":109.53,"s":"triangle-right","c":"red"}
],
"regime": [
{"d":2.31,"t":"Flow regime"},
{"d":50.16,"t":"Flow regime"},
{"d":92.53,"t":"Flow regime"}
],
"regimeBold": [
{"d":18.78,"t":"a)"},
{"d":66.17,"t":"b)"},
{"d":108.55,"t":"c)"}
],
"axisHeads": [
{"d":0,"v":2444,"s":"triangle-up"},
{"d":110.23,"v":2444,"s":"triangle-up"},
{"d":109.68,"v":0,"s":"triangle-right"}
]
},
"layer": [
{
"layer": [
{"data": {"name": "scatter"}, "transform": [{"flatten": ["d", "h"]}],
 "mark": {"type": "circle", "size": 10, "color": "#3fa56e", "opacity": 0.6},
 "encoding": {
   "x": {"field": "d", "type": "quantitative", "scale": {"domain": [-5.121, 110.23], "nice": false, "zero": false}},
   "y": {"field": "h", "type": "quantitative", "scale": {"domain": [-0.346, 3.823], "nice": false, "zero": false}}
 }},
{"data": {"name": "avg"},
 "mark": {"type": "line", "color": "#12864a", "strokeWidth": 2.6},
 "encoding": {
   "x": {"field": "d", "type": "quantitative", "scale": {"domain": [-5.121, 110.23], "nice": false, "zero": false}},
   "y": {"field": "h", "type": "quantitative", "scale": {"domain": [-0.346, 3.823], "nice": false, "zero": false},
   "axis": {"orient": "left", "offset": -1097, "values": [0, 0.5, 1, 1.5, 2, 2.5, 3, 3.5], "format": ".2f", "grid": false,
     "title": "Head difference in [m]", "domainColor": "#9a9a9a", "domainWidth": 1.5, "tickColor": "#9a9a9a", "tickSize": 5, "labelPadding": 3,
     "labelFont": "DejaVu Serif", "labelFontWeight": "bold", "labelFontSize": 14, "labelColor": "#808080",
     "titleFont": "DejaVu Sans", "titleFontWeight": "bold", "titleFontSize": 22, "titleColor": "#000000",
     "titleAngle": -90, "titleX": 24, "titleY": 202, "titleAlign": "center", "titleBaseline": "middle"}}}}
]
},
{
"layer": [
{"data": {"name": "flow"},
 "mark": {"type": "line", "color": "#1f1f99", "strokeWidth": 2.2},
 "encoding": {
   "x": {"field": "d", "type": "quantitative", "scale": {"domain": [-5.121, 110.23], "nice": false, "zero": false},
     "axis": {"orient": "bottom", "offset": -45, "values": [0, 10, 20, 30, 40, 50, 60, 70, 80, 90, 100], "grid": false,
       "labelExpr": "datum.value == 0 ? '0' : datum.value + '%'",
       "title": "Duration in [% of a year]", "domainColor": "#9a9a9a", "domainWidth": 1.5, "tickColor": "#9a9a9a", "tickSize": 5, "labelPadding": 5,
       "labelFont": "DejaVu Serif", "labelFontWeight": "bold", "labelFontSize": 14, "labelColor": "#808080",
       "titleFont": "DejaVu Sans", "titleFontWeight": "bold", "titleFontSize": 26, "titleColor": "#000000",
       "titleX": 550, "titleY": 71, "titleAlign": "center", "titleBaseline": "middle"}},
   "y": {"field": "v", "type": "quantitative", "scale": {"domain": [-224, 2470], "nice": false, "zero": false},
     "axis": {"orient": "left", "offset": -48.7, "values": [0, 250, 500, 750, 1000, 1250, 1500, 1750, 2000, 2250], "format": "d", "grid": false,
       "title": "Discharge in [m³/s]", "domainColor": "#9a9a9a", "domainWidth": 1.5, "tickColor": "#9a9a9a", "tickSize": 4, "labelPadding": 2,
       "labelFont": "DejaVu Serif", "labelFontWeight": "bold", "labelFontSize": 14, "labelColor": "#808080",
       "titleFont": "DejaVu Sans", "titleFontWeight": "bold", "titleFontSize": 25, "titleColor": "#000000",
       "titleAngle": -90, "titleX": -61, "titleY": 153, "titleAlign": "center", "titleBaseline": "middle"}}
 }},
{"data": {"name": "blackLines"},
 "mark": {"type": "rule", "color": "#000000", "strokeWidth": 3.5, "strokeDash": [10, 6]},
 "encoding": {
   "x": {"field": "d", "type": "quantitative", "scale": {"domain": [-5.121, 110.23], "nice": false, "zero": false}}
 }},
{"data": {"name": "redLine"},
 "mark": {"type": "rule", "color": "#e8202a", "strokeWidth": 1.6, "strokeDash": [5, 3]},
 "encoding": {
   "x": {"field": "d", "type": "quantitative", "scale": {"domain": [-5.121, 110.23], "nice": false, "zero": false}}
 }},
{"data": {"name": "boxes"},
 "mark": {"type": "rect", "fill": "#ffffff", "stroke": "#aaaaaa", "strokeWidth": 1.5, "cornerRadius": 7},
 "encoding": {
   "x": {"field": "x1", "type": "quantitative", "scale": {"domain": [-5.121, 110.23], "nice": false, "zero": false}},
   "x2": {"field": "x2"},
   "y": {"datum": 2522, "type": "quantitative", "scale": {"domain": [-224, 2470], "nice": false, "zero": false}},
   "y2": {"datum": 2358}
 }},
{"data": {"name": "boxes"},
 "mark": {"type": "text", "font": "DejaVu Serif", "fontWeight": "bold", "fontSize": 16, "color": "#111111", "align": "center", "baseline": "middle"},
 "encoding": {
   "x": {"field": "xc", "type": "quantitative", "scale": {"domain": [-5.121, 110.23], "nice": false, "zero": false}},
   "y": {"datum": 2440, "type": "quantitative", "scale": {"domain": [-224, 2470], "nice": false, "zero": false}},
   "text": {"field": "t"}
 }},
{"data": {"name": "arrows"},
 "mark": {"type": "rule", "strokeWidth": 4},
 "encoding": {
   "x": {"field": "a", "type": "quantitative", "scale": {"domain": [-5.121, 110.23], "nice": false, "zero": false}},
   "x2": {"field": "b"},
   "y": {"datum": 2557, "type": "quantitative", "scale": {"domain": [-224, 2470], "nice": false, "zero": false}},
   "color": {"field": "c", "type": "nominal", "scale": {"domain": ["red", "blue"], "range": ["#ff0000", "#0000ff"]}, "legend": null}
 }},
{"data": {"name": "heads"},
 "mark": {"type": "point", "filled": true, "size": 250, "opacity": 1, "strokeWidth": 0},
 "encoding": {
   "x": {"field": "d", "type": "quantitative", "scale": {"domain": [-5.121, 110.23], "nice": false, "zero": false}},
   "y": {"datum": 2557, "type": "quantitative", "scale": {"domain": [-224, 2470], "nice": false, "zero": false}},
   "shape": {"field": "s", "type": "nominal", "scale": null},
   "color": {"field": "c", "type": "nominal", "scale": {"domain": ["red", "blue"], "range": ["#ff0000", "#0000ff"]}, "legend": null}
 }},
{"data": {"name": "regime"},
 "mark": {"type": "text", "font": "DejaVu Sans", "fontSize": 24, "color": "#000000", "align": "left", "baseline": "alphabetic"},
 "encoding": {
   "x": {"field": "d", "type": "quantitative", "scale": {"domain": [-5.121, 110.23], "nice": false, "zero": false}},
   "y": {"datum": 2653, "type": "quantitative", "scale": {"domain": [-224, 2470], "nice": false, "zero": false}},
   "text": {"field": "t"}
 }},
{"data": {"name": "regimeBold"},
 "mark": {"type": "text", "font": "DejaVu Sans", "fontWeight": "bold", "fontSize": 24, "color": "#000000", "align": "left", "baseline": "alphabetic"},
 "encoding": {
   "x": {"field": "d", "type": "quantitative", "scale": {"domain": [-5.121, 110.23], "nice": false, "zero": false}},
   "y": {"datum": 2653, "type": "quantitative", "scale": {"domain": [-224, 2470], "nice": false, "zero": false}},
   "text": {"field": "t"}
 }},
{"data": {"name": "axisHeads"},
 "mark": {"type": "point", "filled": true, "size": 144, "color": "#8c8c8c", "opacity": 1, "strokeWidth": 0},
 "encoding": {
   "x": {"field": "d", "type": "quantitative", "scale": {"domain": [-5.121, 110.23], "nice": false, "zero": false}},
   "y": {"field": "v", "type": "quantitative", "scale": {"domain": [-224, 2470], "nice": false, "zero": false}},
   "shape": {"field": "s", "type": "nominal", "scale": null}
 }}
]
}
],
"resolve": {"scale": {"y": "independent"}, "axis": {"y": "independent"}}
}
